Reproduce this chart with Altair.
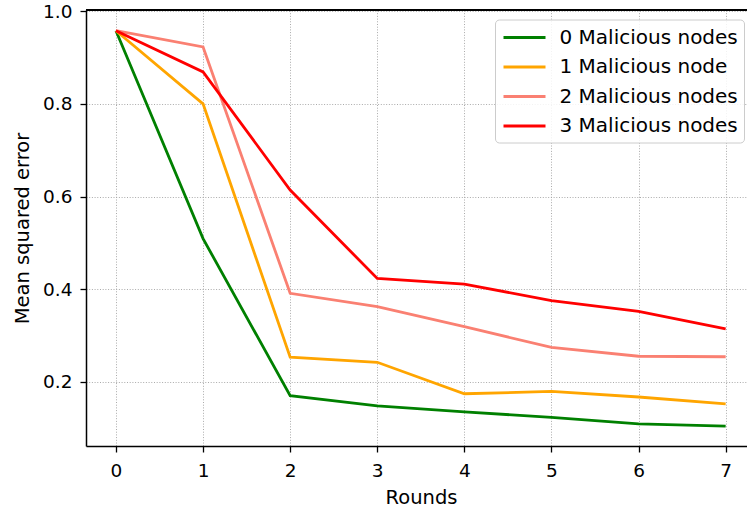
import altair as alt
import pandas as pd

rounds = [0, 1, 2, 3, 4, 5, 6, 7]
series_names = ["0 Malicious nodes", "1 Malicious node", "2 Malicious nodes", "3 Malicious nodes"]
colors = ["#008000", "#FFA500", "#FA8072", "#FF0000"]
mse_0 = [0.958, 0.509, 0.170, 0.148, 0.135, 0.123, 0.109, 0.104]
mse_1 = [0.958, 0.800, 0.253, 0.242, 0.174, 0.179, 0.167, 0.152]
mse_2 = [0.958, 0.923, 0.391, 0.362, 0.319, 0.274, 0.255, 0.254]
mse_3 = [0.958, 0.869, 0.614, 0.423, 0.411, 0.375, 0.352, 0.314]

rows = []
for i, (name, vals) in enumerate(zip(series_names, [mse_0, mse_1, mse_2, mse_3])):
    for r, v in zip(rounds, vals):
        rows.append({"Rounds": r, "MSE": v, "Series": name, "order": i})
df = pd.DataFrame(rows)

FONT = "DejaVu Sans"
W, H = 661, 436

lines = alt.Chart(df).mark_line(strokeWidth=2.8, strokeCap="butt", strokeJoin="miter").encode(
    x=alt.X("Rounds:Q",
            scale=alt.Scale(domain=[-0.344, 7.245], nice=False, zero=False),
            axis=alt.Axis(values=rounds, format="d", title="Rounds",
                          titleX=335, titleY=57, titleBaseline="alphabetic")),
    y=alt.Y("MSE:Q",
            scale=alt.Scale(domain=[0.0612, 1.0028], nice=False, zero=False),
            axis=alt.Axis(values=[0.2, 0.4, 0.6, 0.8, 1.0], format=".1f",
                          title="Mean squared error",
                          titleX=-58, titleY=H / 2, titleAngle=270,
                          titleBaseline="alphabetic")),
    color=alt.Color("Series:N",
                    scale=alt.Scale(domain=series_names, range=colors),
                    sort=series_names,
                    legend=alt.Legend(orient="none", legendX=409, legendY=9.5, title=None,
                                      symbolType="M-2,0H2", symbolSize=441,
                                      symbolOffset=11.5,
                                      symbolStrokeWidth=2.8, labelOffset=23,
                                      labelFont=FONT, labelFontSize=20, labelColor="black",
                                      labelLimit=0,
                                      padding=6, rowPadding=7.5,
                                      strokeColor="#cccccc", fillColor="rgba(255,255,255,0.85)",
                                      cornerRadius=4)),
    order=alt.Order("order:Q"),
    detail="Series:N",
)

top_spine = alt.Chart(df).mark_rule(color="black", strokeWidth=1.5).encode(
    x=alt.value(0), x2=alt.value(W), y=alt.value(0)
)

chart = alt.layer(lines, top_spine).properties(
    width=W, height=H,
    autosize=alt.AutoSizeParams(type="none"),
    padding={"left": 86, "top": 10, "right": 0, "bottom": 66},
).configure_view(stroke=None).configure_axis(
    labelFont=FONT, titleFont=FONT, labelFontSize=18.5, titleFontSize=19.5,
    labelColor="black", titleColor="black", titleFontWeight="normal",
    domainColor="black", domainWidth=1.5, tickColor="black", tickWidth=1.3, tickSize=6,
    grid=True, gridColor="#a0a0a0", gridDash=[1, 1.7], gridWidth=0.9,
).configure_axisX(labelPadding=9).configure_axisY(labelPadding=8)

chart.save("out.html", embed_options={"renderer": "svg", "actions": False})
